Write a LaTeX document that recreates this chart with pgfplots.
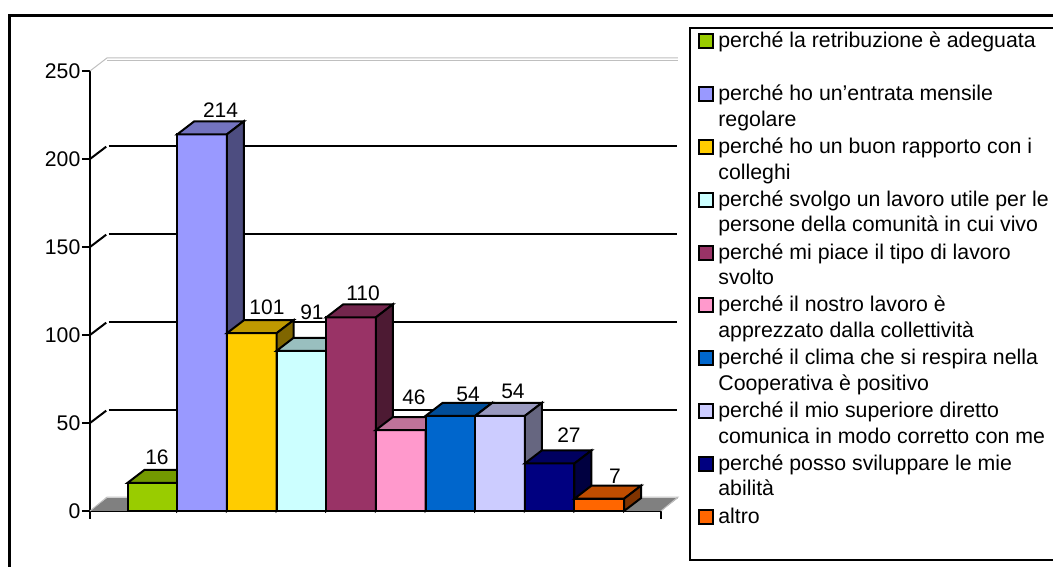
\documentclass[border=0pt]{standalone}
\usepackage{fontspec}
\usepackage{pgfplots}
\pgfplotsset{compat=1.18}
\setmainfont{Liberation Sans}
\definecolor{c1}{HTML}{99CC00}\definecolor{t1}{HTML}{739900}\definecolor{s1}{HTML}{4D6600}
\definecolor{c2}{HTML}{9999FF}\definecolor{t2}{HTML}{7373BF}\definecolor{s2}{HTML}{4D4D80}
\definecolor{c3}{HTML}{FFCC00}\definecolor{t3}{HTML}{BF9900}\definecolor{s3}{HTML}{806600}
\definecolor{c4}{HTML}{CCFFFF}\definecolor{t4}{HTML}{99BFBF}\definecolor{s4}{HTML}{668080}
\definecolor{c5}{HTML}{993366}\definecolor{t5}{HTML}{73264D}\definecolor{s5}{HTML}{4D1A33}
\definecolor{c6}{HTML}{FF99CC}\definecolor{t6}{HTML}{BF7399}\definecolor{s6}{HTML}{804D66}
\definecolor{c7}{HTML}{0066CC}\definecolor{t7}{HTML}{004D99}\definecolor{s7}{HTML}{003366}
\definecolor{c8}{HTML}{CCCCFF}\definecolor{t8}{HTML}{9999BF}\definecolor{s8}{HTML}{666680}
\definecolor{c9}{HTML}{000080}\definecolor{t9}{HTML}{000060}\definecolor{s9}{HTML}{000040}
\definecolor{c10}{HTML}{FF6600}\definecolor{t10}{HTML}{BF4D00}\definecolor{s10}{HTML}{803300}
\newcommand{\lgd}[2]{\parbox[t]{400pt}{\strut #1\\#2\strut}}
\begin{document}
\begin{tikzpicture}[x=1pt,y=1pt]
\useasboundingbox (0,0) rectangle (1053,567);
\draw[line width=3.2pt] (9.5,-50) rectangle (1150,551.3);
\begin{axis}[
  at={(90pt,56pt)}, anchor=south west,
  scale only axis, width=571pt, height=440pt,
  clip=false,
  xmin=-0.757, xmax=10.743, ymin=0, ymax=250,
  axis x line*=bottom, axis y line*=left,
  x axis line style={line width=2.4pt}, y axis line style={line width=2pt},
  xtick={-0.757,10.743}, xticklabels={,},
  ytick={0,50,100,150,200,250},
  tick style={black,line width=2pt},
  tick align=outside, major tick length=8pt,
  yticklabel style={font=\fontsize{21.2}{24}\selectfont,/pgf/number format/assume math mode=true,inner xsep=1.5pt},
  legend style={
    at={(1.0497,1.1)}, anchor=north west,
    draw=black, line width=2pt, inner xsep=8pt, inner ysep=2pt,
    font=\fontsize{21.3}{25.6}\selectfont,
    row sep=0pt,
    nodes={inner ysep=0pt, inner xsep=4pt, text height=17.9pt, text depth=34.9pt},
    cells={anchor=west},
  },
  legend image code/.code={\draw[#1,line width=2pt] (0pt,8pt) rectangle (14pt,22pt);},
  legend cell align=left,
]
% floor
\addplot[forget plot,fill=black!50,draw=none] coordinates {(-0.757,0) (10.743,0) (11.085,7.386) (-0.415,7.386)} --cycle;
\addplot[forget plot,draw=black!25,line width=1pt] coordinates {(-0.757,0) (-0.415,7.9) (11.085,7.9) (10.743,0)};
% back wall top and its left edge
\addplot[forget plot,draw=black!25,line width=1pt] coordinates {(-0.757,250) (-0.415,257.4) (11.085,257.4)};
\addplot[forget plot,draw=black!25,line width=1pt] coordinates {(-0.415,256) (11.085,256)};
% grid lines on the wall and on the side wall
\addplot[forget plot,black,line width=2pt] coordinates {(-0.38,57.386) (11.06,57.386)};
\addplot[forget plot,black,line width=2pt] coordinates {(-0.38,107.386) (11.06,107.386)};
\addplot[forget plot,black,line width=2pt] coordinates {(-0.38,157.386) (11.06,157.386)};
\addplot[forget plot,black,line width=2pt] coordinates {(-0.38,207.386) (11.06,207.386)};
\addplot[forget plot,black,line width=2pt] coordinates {(-0.757,50) (-0.43,57.0)};
\addplot[forget plot,black,line width=2pt] coordinates {(-0.757,100) (-0.43,107.0)};
\addplot[forget plot,black,line width=2pt] coordinates {(-0.757,150) (-0.43,157.0)};
\addplot[forget plot,black,line width=2pt] coordinates {(-0.757,200) (-0.43,207.0)};
% bars
\pgfplotsset{every axis plot/.append style={line join=miter}}
\addplot[ybar,bar width=49.65pt,bar shift=0pt,fill=c1,draw=black,line width=2pt] coordinates {(0.5,16)};
\addlegendentry{\lgd{perché la retribuzione è adeguata}{}}
\addplot[forget plot,fill=t1,draw=black,line width=2pt] coordinates {(0,16) (1,16) (1.342,23.386) (0.342,23.386)} --cycle;
\addplot[forget plot,fill=s1,draw=black,line width=2pt] coordinates {(1,0) (1.342,7.386) (1.342,23.386) (1,16)} --cycle;
\addplot[ybar,bar width=49.65pt,bar shift=0pt,fill=c2,draw=black,line width=2pt] coordinates {(1.5,214)};
\addlegendentry{\lgd{perché ho un’entrata mensile}{regolare}}
\addplot[forget plot,fill=t2,draw=black,line width=2pt] coordinates {(1,214) (2,214) (2.342,221.386) (1.342,221.386)} --cycle;
\addplot[forget plot,fill=s2,draw=black,line width=2pt] coordinates {(2,0) (2.342,7.386) (2.342,221.386) (2,214)} --cycle;
\addplot[ybar,bar width=49.65pt,bar shift=0pt,fill=c3,draw=black,line width=2pt] coordinates {(2.5,101)};
\addlegendentry{\lgd{perché ho un buon rapporto con i}{colleghi}}
\addplot[forget plot,fill=t3,draw=black,line width=2pt] coordinates {(2,101) (3,101) (3.342,108.386) (2.342,108.386)} --cycle;
\addplot[forget plot,fill=s3,draw=black,line width=2pt] coordinates {(3,0) (3.342,7.386) (3.342,108.386) (3,101)} --cycle;
\addplot[ybar,bar width=49.65pt,bar shift=0pt,fill=c4,draw=black,line width=2pt] coordinates {(3.5,91)};
\addlegendentry{\lgd{perché svolgo un lavoro utile per le}{persone della comunità in cui vivo}}
\addplot[forget plot,fill=t4,draw=black,line width=2pt] coordinates {(3,91) (4,91) (4.342,98.386) (3.342,98.386)} --cycle;
\addplot[forget plot,fill=s4,draw=black,line width=2pt] coordinates {(4,0) (4.342,7.386) (4.342,98.386) (4,91)} --cycle;
\addplot[ybar,bar width=49.65pt,bar shift=0pt,fill=c5,draw=black,line width=2pt] coordinates {(4.5,110)};
\addlegendentry{\lgd{perché mi piace il tipo di lavoro}{svolto}}
\addplot[forget plot,fill=t5,draw=black,line width=2pt] coordinates {(4,110) (5,110) (5.342,117.386) (4.342,117.386)} --cycle;
\addplot[forget plot,fill=s5,draw=black,line width=2pt] coordinates {(5,0) (5.342,7.386) (5.342,117.386) (5,110)} --cycle;
\addplot[ybar,bar width=49.65pt,bar shift=0pt,fill=c6,draw=black,line width=2pt] coordinates {(5.5,46)};
\addlegendentry{\lgd{perché il nostro lavoro è}{apprezzato dalla collettività}}
\addplot[forget plot,fill=t6,draw=black,line width=2pt] coordinates {(5,46) (6,46) (6.342,53.386) (5.342,53.386)} --cycle;
\addplot[forget plot,fill=s6,draw=black,line width=2pt] coordinates {(6,0) (6.342,7.386) (6.342,53.386) (6,46)} --cycle;
\addplot[ybar,bar width=49.65pt,bar shift=0pt,fill=c7,draw=black,line width=2pt] coordinates {(6.5,54)};
\addlegendentry{\lgd{perché il clima che si respira nella}{Cooperativa è positivo}}
\addplot[forget plot,fill=t7,draw=black,line width=2pt] coordinates {(6,54) (7,54) (7.342,61.386) (6.342,61.386)} --cycle;
\addplot[forget plot,fill=s7,draw=black,line width=2pt] coordinates {(7,0) (7.342,7.386) (7.342,61.386) (7,54)} --cycle;
\addplot[ybar,bar width=49.65pt,bar shift=0pt,fill=c8,draw=black,line width=2pt] coordinates {(7.5,54)};
\addlegendentry{\lgd{perché il mio superiore diretto}{comunica in modo corretto con me}}
\addplot[forget plot,fill=t8,draw=black,line width=2pt] coordinates {(7,54) (8,54) (8.342,61.386) (7.342,61.386)} --cycle;
\addplot[forget plot,fill=s8,draw=black,line width=2pt] coordinates {(8,0) (8.342,7.386) (8.342,61.386) (8,54)} --cycle;
\addplot[ybar,bar width=49.65pt,bar shift=0pt,fill=c9,draw=black,line width=2pt] coordinates {(8.5,27)};
\addlegendentry{\lgd{perché posso sviluppare le mie}{abilità}}
\addplot[forget plot,fill=t9,draw=black,line width=2pt] coordinates {(8,27) (9,27) (9.342,34.386) (8.342,34.386)} --cycle;
\addplot[forget plot,fill=s9,draw=black,line width=2pt] coordinates {(9,0) (9.342,7.386) (9.342,34.386) (9,27)} --cycle;
\addplot[ybar,bar width=49.65pt,bar shift=0pt,fill=c10,draw=black,line width=2pt] coordinates {(9.5,7)};
\addlegendentry{\lgd{altro}{}}
\addplot[forget plot,fill=t10,draw=black,line width=2pt] coordinates {(9,7) (10,7) (10.342,14.386) (9.342,14.386)} --cycle;
\addplot[forget plot,fill=s10,draw=black,line width=2pt] coordinates {(10,0) (10.342,7.386) (10.342,14.386) (10,7)} --cycle;
% value labels
\tikzset{vl/.style={font=\fontsize{21}{24}\selectfont,inner sep=0pt}}
\node[vl] at (axis cs:0.592,30.7) {16};
\node[vl] at (axis cs:1.873,227.8) {214};
\node[vl] at (axis cs:2.808,115.9) {101};
\node[vl] at (axis cs:3.714,113.1) {91};
\node[vl] at (axis cs:4.741,123.9) {110};
\node[vl] at (axis cs:5.768,64.8) {46};
\node[vl] at (axis cs:6.856,66.5) {54};
\node[vl] at (axis cs:7.762,68.2) {54};
\node[vl] at (axis cs:8.890,43.2) {27};
\node[vl] at (axis cs:9.817,19.9) {7};
\end{axis}
\end{tikzpicture}
\end{document}
